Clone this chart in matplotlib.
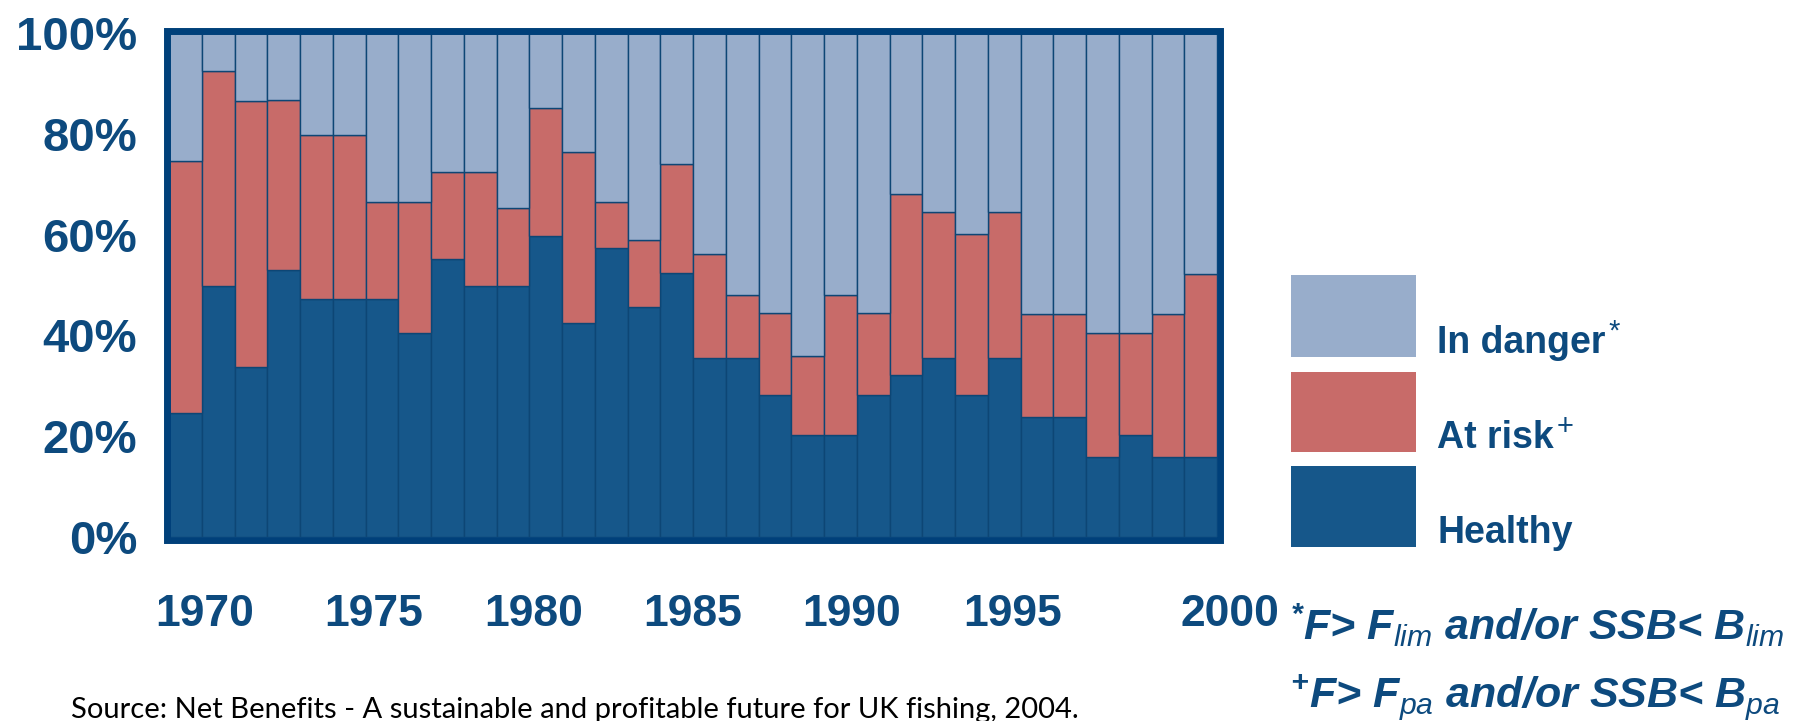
import numpy as np
import matplotlib
matplotlib.use('Agg')
import matplotlib.pyplot as plt
from matplotlib.patches import Rectangle

# Font settings
plt.rcParams['font.family'] = ['Liberation Sans', 'DejaVu Sans']
plt.rcParams['mathtext.fontset'] = 'custom'
plt.rcParams['mathtext.rm'] = 'Liberation Sans:bold:italic'
plt.rcParams['mathtext.it'] = 'Liberation Sans:italic'
plt.rcParams['mathtext.bf'] = 'Liberation Sans:bold'

# ========== Data (share of stocks, %) ==========
years = list(range(1969, 2001))
healthy = [24.6, 49.9, 33.7, 53.0, 47.2, 47.2, 47.2, 40.5, 55.1, 49.9, 49.9,
           59.8, 42.4, 57.3, 45.6, 52.4, 35.6, 35.6, 28.2, 20.2, 20.2, 28.2,
           32.2, 35.6, 28.2, 35.6, 23.9, 23.9, 15.9, 20.2, 15.9, 15.9]
at_risk = [50.1, 42.6, 52.9, 33.7, 32.6, 32.6, 19.2, 25.9, 17.3, 22.5, 15.3,
           25.3, 33.9, 9.1, 13.3, 21.7, 20.5, 12.4, 16.2, 15.7, 27.8, 16.2,
           35.8, 28.8, 32.0, 28.8, 20.3, 20.3, 24.6, 20.2, 28.3, 36.3]
in_danger = [25.3, 7.5, 13.4, 13.3, 20.2, 20.2, 33.6, 33.6, 27.6, 27.6, 34.8,
             14.9, 23.7, 33.6, 41.1, 25.9, 43.9, 52.0, 55.6, 64.1, 52.0, 55.6,
             32.0, 35.6, 39.8, 35.6, 55.8, 55.8, 59.5, 59.6, 55.8, 47.8]

year_labels = ['1970', '1975', '1980', '1985', '1990', '1995', '2000']
year_label_pos = [1969.6, 1974.75, 1979.65, 1984.5, 1989.35, 1994.25, 2000.9]
pct_ticks = [0, 20, 40, 60, 80, 100]

c_healthy = '#16578A'
c_risk = '#C86B69'
c_danger = '#98ADCB'
c_frame = '#00407A'
c_edge = '#0D4675'
c_text = '#0D4A7E'

W, H = 1795, 721
AX_L, AX_R, AX_T, AX_B = 169, 1217, 33, 537

def fx(x):
    return x / W

def fy(y):
    return 1 - y / H

fig = plt.figure(figsize=(W / 100, H / 100), dpi=100)
ax = fig.add_axes([fx(AX_L), fy(AX_B), fx(AX_R) - fx(AX_L), fy(AX_T) - fy(AX_B)])

h = np.array(healthy)
r = np.array(at_risk)
d = np.array(in_danger)
ax.bar(years, h, width=1.0, color=c_healthy, edgecolor=c_edge, linewidth=1.0)
ax.bar(years, r, bottom=h, width=1.0, color=c_risk, edgecolor=c_edge, linewidth=1.0)
ax.bar(years, d, bottom=h + r, width=1.0, color=c_danger, edgecolor=c_edge, linewidth=1.0)

ax.set_ylim(0, 100)
ax.set_xticks([])
ax.set_xlim(years[0] - 0.5, years[-1] + 0.5)
for s in ax.spines.values():
    s.set_visible(False)

ax.set_yticks(pct_ticks)
ax.set_yticklabels([f'{p}%' for p in pct_ticks], fontsize=34, fontweight='bold', color=c_text)
ax.tick_params(axis='y', length=0, pad=23)

# year labels (the 2000 label sits past the last bar, as in the original)
y_lab = (AX_B - 614) / (AX_B - AX_T)
for pos, lab in zip(year_label_pos, year_labels):
    ax.text(pos, y_lab, lab, transform=ax.get_xaxis_transform(), ha='center', va='center',
            fontsize=32, fontweight='bold', color=c_text, clip_on=False)

# thick frame around the plot (overlaps the bar edges a little)
fig.patches.append(Rectangle((fx(AX_L - 2.5), fy(AX_B + 2.5)), fx(AX_R + 2.5) - fx(AX_L - 2.5),
                             fy(AX_T - 2.5) - fy(AX_B + 2.5),
                             transform=fig.transFigure, fill=False, edgecolor=c_frame, linewidth=5.0))

# legend boxes
legend_items = [('In danger', '*', c_danger, 275, 357),
                ('At risk', '+', c_risk, 372, 452),
                ('Healthy', '', c_healthy, 466, 547)]
fig.canvas.draw()
for label, mark, col, y0, y1 in legend_items:
    fig.patches.append(Rectangle((fx(1291), fy(y1)), fx(1416) - fx(1291), fy(y0) - fy(y1),
                                 transform=fig.transFigure, facecolor=col, edgecolor='none'))
    t = fig.text(fx(1437), fy(y1 - 4), label, fontsize=27, fontweight='bold', color=c_text, va='baseline')
    if mark:
        bb = t.get_window_extent(renderer=fig.canvas.get_renderer())
        fig.text(fx(bb.x1 + 3), fy(y1 - 4) + 0.018, mark, fontsize=21, color=c_text, va='baseline')

# footnotes
fig.text(fx(1290), fy(640), r'$^{*}$F> F$_{lim}$ and/or SSB< B$_{lim}$', fontsize=31,
         fontweight='bold', fontstyle='italic', color=c_text, va='baseline')
fig.text(fx(1290), fy(708), r'$^{+}$F> F$_{pa}$ and/or SSB< B$_{pa}$', fontsize=31,
         fontweight='bold', fontstyle='italic', color=c_text, va='baseline')

# source
fig.text(fx(71), fy(718), 'Source: Net Benefits - A sustainable and profitable future for UK fishing, 2004.',
         fontsize=21, family=['Lato', 'DejaVu Sans'], color='black', va='baseline')

plt.savefig('out.png', dpi=100)
